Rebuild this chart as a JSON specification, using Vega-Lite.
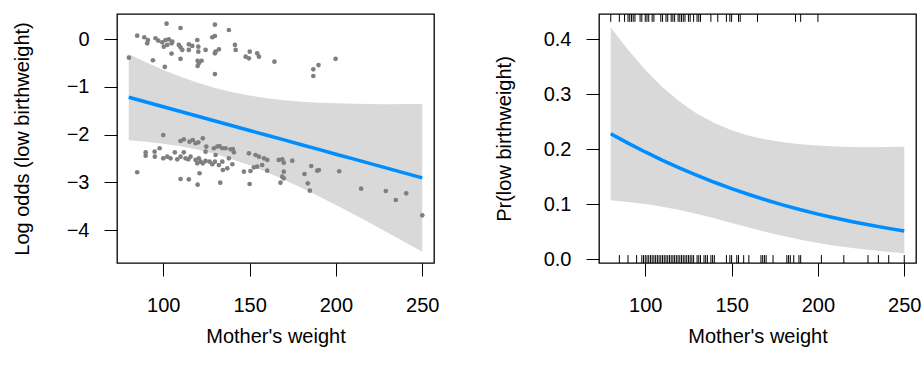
{
  "$schema": "https://vega.github.io/schema/vega-lite/v6.json",
  "padding": {"left": 11, "top": 12, "right": 0, "bottom": 0},
  "background": "white",
  "config": {
    "font": "Liberation Sans",
    "view": {"stroke": "black", "strokeWidth": 1.3},
    "axis": {"domain": false, "grid": false, "tickColor": "black", "tickSize": 13, "tickWidth": 1, "labelFontSize": 20, "titleFontSize": 20, "titleFontWeight": "normal", "labelColor": "black", "titleColor": "black", "labelFont": "Liberation Sans", "titleFont": "Liberation Sans", "labelOverlap": false},
    "axisX": {"labelPadding": 19, "titlePadding": 11, "labelFlush": false},
    "axisY": {"labelPadding": 15, "titlePadding": 29, "minExtent": 56, "maxExtent": 56},
    "concat": {"spacing": 53}
  },
  "datasets": {
    "fit": [
      {"lwt": 80, "lo": -1.216, "lo_lo": -2.116, "lo_hi": -0.316, "p": 0.2287, "p_lo": 0.1075, "p_hi": 0.4217},
      {"lwt": 90, "lo": -1.315, "lo_lo": -2.146, "lo_hi": -0.484, "p": 0.2116, "p_lo": 0.1047, "p_hi": 0.3813},
      {"lwt": 100, "lo": -1.415, "lo_lo": -2.188, "lo_hi": -0.642, "p": 0.1955, "p_lo": 0.1008, "p_hi": 0.3448},
      {"lwt": 110, "lo": -1.514, "lo_lo": -2.243, "lo_hi": -0.785, "p": 0.1803, "p_lo": 0.0960, "p_hi": 0.3133},
      {"lwt": 120, "lo": -1.614, "lo_lo": -2.316, "lo_hi": -0.912, "p": 0.1660, "p_lo": 0.0898, "p_hi": 0.2866},
      {"lwt": 130, "lo": -1.713, "lo_lo": -2.406, "lo_hi": -1.020, "p": 0.1528, "p_lo": 0.0827, "p_hi": 0.2650},
      {"lwt": 140, "lo": -1.812, "lo_lo": -2.515, "lo_hi": -1.109, "p": 0.1404, "p_lo": 0.0748, "p_hi": 0.2481},
      {"lwt": 150, "lo": -1.912, "lo_lo": -2.643, "lo_hi": -1.181, "p": 0.1288, "p_lo": 0.0664, "p_hi": 0.2349},
      {"lwt": 160, "lo": -2.011, "lo_lo": -2.786, "lo_hi": -1.236, "p": 0.1181, "p_lo": 0.0581, "p_hi": 0.2251},
      {"lwt": 170, "lo": -2.110, "lo_lo": -2.944, "lo_hi": -1.276, "p": 0.1081, "p_lo": 0.0500, "p_hi": 0.2182},
      {"lwt": 180, "lo": -2.210, "lo_lo": -3.113, "lo_hi": -1.307, "p": 0.0989, "p_lo": 0.0426, "p_hi": 0.2130},
      {"lwt": 190, "lo": -2.309, "lo_lo": -3.290, "lo_hi": -1.328, "p": 0.0904, "p_lo": 0.0359, "p_hi": 0.2095},
      {"lwt": 200, "lo": -2.409, "lo_lo": -3.475, "lo_hi": -1.343, "p": 0.0825, "p_lo": 0.0300, "p_hi": 0.2070},
      {"lwt": 210, "lo": -2.508, "lo_lo": -3.664, "lo_hi": -1.352, "p": 0.0753, "p_lo": 0.0250, "p_hi": 0.2055},
      {"lwt": 220, "lo": -2.607, "lo_lo": -3.857, "lo_hi": -1.357, "p": 0.0687, "p_lo": 0.0207, "p_hi": 0.2047},
      {"lwt": 230, "lo": -2.707, "lo_lo": -4.054, "lo_hi": -1.360, "p": 0.0626, "p_lo": 0.0171, "p_hi": 0.2042},
      {"lwt": 240, "lo": -2.806, "lo_lo": -4.253, "lo_hi": -1.359, "p": 0.0570, "p_lo": 0.0140, "p_hi": 0.2044},
      {"lwt": 250, "lo": -2.906, "lo_lo": -4.456, "lo_hi": -1.356, "p": 0.0519, "p_lo": 0.0115, "p_hi": 0.2049}
    ],
    "resid": [
      {"lwt": 101.9, "r": 0.327}, {"lwt": 110.0, "r": 0.237}, {"lwt": 129.9, "r": 0.306}, {"lwt": 138.0, "r": 0.195},
      {"lwt": 84.9, "r": 0.075}, {"lwt": 89.0, "r": 0.042}, {"lwt": 91.1, "r": -0.015}, {"lwt": 90.7, "r": -0.084},
      {"lwt": 95.5, "r": 0.021}, {"lwt": 97.1, "r": -0.029}, {"lwt": 99.4, "r": -0.063}, {"lwt": 101.3, "r": -0.015},
      {"lwt": 103.2, "r": 0.0}, {"lwt": 104.8, "r": -0.084}, {"lwt": 105.2, "r": -0.05}, {"lwt": 102.3, "r": -0.119},
      {"lwt": 100.3, "r": -0.155}, {"lwt": 109.0, "r": -0.119}, {"lwt": 110.0, "r": -0.168}, {"lwt": 111.0, "r": -0.224},
      {"lwt": 114.8, "r": -0.224}, {"lwt": 114.8, "r": -0.105}, {"lwt": 116.8, "r": -0.14}, {"lwt": 119.7, "r": -0.015},
      {"lwt": 120.3, "r": -0.155}, {"lwt": 120.3, "r": -0.26}, {"lwt": 124.5, "r": -0.224}, {"lwt": 128.4, "r": 0.042},
      {"lwt": 129.9, "r": 0.069}, {"lwt": 130.3, "r": -0.26}, {"lwt": 129.9, "r": -0.294}, {"lwt": 132.2, "r": -0.21},
      {"lwt": 141.5, "r": -0.119}, {"lwt": 141.9, "r": -0.224}, {"lwt": 147.7, "r": -0.364}, {"lwt": 150.1, "r": -0.26},
      {"lwt": 149.6, "r": -0.4}, {"lwt": 154.4, "r": -0.294}, {"lwt": 155.4, "r": -0.364}, {"lwt": 164.4, "r": -0.469},
      {"lwt": 80.1, "r": -0.385}, {"lwt": 94.0, "r": -0.44}, {"lwt": 100.9, "r": -0.58}, {"lwt": 104.8, "r": -0.3},
      {"lwt": 110.0, "r": -0.41}, {"lwt": 119.9, "r": -0.45}, {"lwt": 120.6, "r": -0.5}, {"lwt": 119.9, "r": -0.56},
      {"lwt": 122.2, "r": -0.45}, {"lwt": 129.9, "r": -0.73}, {"lwt": 186.9, "r": -0.63}, {"lwt": 189.9, "r": -0.54},
      {"lwt": 186.9, "r": -0.77}, {"lwt": 199.8, "r": -0.41},
      {"lwt": 100.0, "r": -2.006}, {"lwt": 110.0, "r": -2.132}, {"lwt": 111.9, "r": -2.097}, {"lwt": 115.2, "r": -2.147},
      {"lwt": 117.1, "r": -2.111}, {"lwt": 118.7, "r": -2.18}, {"lwt": 120.3, "r": -2.16}, {"lwt": 122.9, "r": -2.076},
      {"lwt": 124.9, "r": -2.25}, {"lwt": 129.3, "r": -2.285}, {"lwt": 131.3, "r": -2.25}, {"lwt": 132.6, "r": -2.237},
      {"lwt": 134.2, "r": -2.285}, {"lwt": 136.1, "r": -2.285}, {"lwt": 139.0, "r": -2.306}, {"lwt": 140.9, "r": -2.369},
      {"lwt": 140.3, "r": -2.3}, {"lwt": 89.8, "r": -2.369}, {"lwt": 89.8, "r": -2.44}, {"lwt": 95.0, "r": -2.356},
      {"lwt": 95.1, "r": -2.461}, {"lwt": 97.9, "r": -2.285}, {"lwt": 100.0, "r": -2.495}, {"lwt": 102.3, "r": -2.461},
      {"lwt": 104.2, "r": -2.495}, {"lwt": 106.7, "r": -2.369}, {"lwt": 108.1, "r": -2.516}, {"lwt": 110.0, "r": -2.461},
      {"lwt": 111.9, "r": -2.369}, {"lwt": 112.9, "r": -2.495}, {"lwt": 114.5, "r": -2.516}, {"lwt": 115.8, "r": -2.461},
      {"lwt": 118.7, "r": -2.53}, {"lwt": 120.6, "r": -2.495}, {"lwt": 119.7, "r": -2.6}, {"lwt": 121.6, "r": -2.566},
      {"lwt": 122.9, "r": -2.6}, {"lwt": 124.5, "r": -2.551}, {"lwt": 124.5, "r": -2.356}, {"lwt": 126.8, "r": -2.566},
      {"lwt": 128.4, "r": -2.62}, {"lwt": 130.3, "r": -2.426}, {"lwt": 129.9, "r": -2.566}, {"lwt": 132.2, "r": -2.635},
      {"lwt": 134.2, "r": -2.566}, {"lwt": 134.5, "r": -2.74}, {"lwt": 137.1, "r": -2.705}, {"lwt": 140.0, "r": -2.62},
      {"lwt": 138.0, "r": -2.495}, {"lwt": 149.6, "r": -2.39}, {"lwt": 153.4, "r": -2.426}, {"lwt": 155.4, "r": -2.461},
      {"lwt": 158.3, "r": -2.495}, {"lwt": 160.2, "r": -2.53}, {"lwt": 157.3, "r": -2.635}, {"lwt": 154.4, "r": -2.67},
      {"lwt": 152.5, "r": -2.684}, {"lwt": 150.5, "r": -2.761}, {"lwt": 146.7, "r": -2.775}, {"lwt": 160.2, "r": -2.755},
      {"lwt": 84.9, "r": -2.788}, {"lwt": 110.0, "r": -2.929}, {"lwt": 114.8, "r": -2.935}, {"lwt": 119.9, "r": -3.048},
      {"lwt": 121.0, "r": -2.809}, {"lwt": 133.0, "r": -3.006}, {"lwt": 150.0, "r": -3.034},
      {"lwt": 166.9, "r": -2.53}, {"lwt": 168.9, "r": -2.516}, {"lwt": 169.8, "r": -2.587}, {"lwt": 174.7, "r": -2.545},
      {"lwt": 169.8, "r": -2.776}, {"lwt": 168.9, "r": -2.88}, {"lwt": 169.8, "r": -2.914}, {"lwt": 167.9, "r": -3.006},
      {"lwt": 181.8, "r": -2.824}, {"lwt": 183.7, "r": -3.019}, {"lwt": 184.9, "r": -3.174}, {"lwt": 185.7, "r": -2.656},
      {"lwt": 189.2, "r": -2.755}, {"lwt": 190.1, "r": -2.74}, {"lwt": 201.9, "r": -2.767}, {"lwt": 214.6, "r": -3.132},
      {"lwt": 228.9, "r": -3.18}, {"lwt": 234.7, "r": -3.369}, {"lwt": 240.7, "r": -3.229}, {"lwt": 250.0, "r": -3.69}
    ],
    "rug": [
      {"lwt": 80, "low": 1}, {"lwt": 85, "low": 1}, {"lwt": 88, "low": 1}, {"lwt": 90, "low": 1}, {"lwt": 91, "low": 1},
      {"lwt": 92, "low": 1}, {"lwt": 93, "low": 1}, {"lwt": 94, "low": 1}, {"lwt": 97, "low": 1}, {"lwt": 98, "low": 1},
      {"lwt": 100, "low": 1}, {"lwt": 101, "low": 1}, {"lwt": 102, "low": 1}, {"lwt": 104, "low": 1}, {"lwt": 105, "low": 1},
      {"lwt": 109, "low": 1}, {"lwt": 110, "low": 1}, {"lwt": 112, "low": 1}, {"lwt": 113, "low": 1}, {"lwt": 115, "low": 1},
      {"lwt": 116, "low": 1}, {"lwt": 117, "low": 1}, {"lwt": 119, "low": 1}, {"lwt": 120, "low": 1}, {"lwt": 121, "low": 1},
      {"lwt": 122, "low": 1}, {"lwt": 123, "low": 1}, {"lwt": 125, "low": 1}, {"lwt": 126, "low": 1}, {"lwt": 128, "low": 1},
      {"lwt": 130, "low": 1}, {"lwt": 131, "low": 1}, {"lwt": 132, "low": 1}, {"lwt": 138, "low": 1}, {"lwt": 142, "low": 1},
      {"lwt": 147, "low": 1}, {"lwt": 149, "low": 1}, {"lwt": 150, "low": 1}, {"lwt": 154, "low": 1}, {"lwt": 155, "low": 1},
      {"lwt": 165, "low": 1}, {"lwt": 187, "low": 1}, {"lwt": 190, "low": 1}, {"lwt": 200, "low": 1},
      {"lwt": 85, "low": 0}, {"lwt": 90, "low": 0}, {"lwt": 95, "low": 0}, {"lwt": 98, "low": 0}, {"lwt": 99, "low": 0},
      {"lwt": 100, "low": 0}, {"lwt": 101, "low": 0}, {"lwt": 102, "low": 0}, {"lwt": 103, "low": 0}, {"lwt": 104, "low": 0},
      {"lwt": 105, "low": 0}, {"lwt": 106, "low": 0}, {"lwt": 107, "low": 0}, {"lwt": 108, "low": 0}, {"lwt": 109, "low": 0},
      {"lwt": 110, "low": 0}, {"lwt": 111, "low": 0}, {"lwt": 112, "low": 0}, {"lwt": 113, "low": 0}, {"lwt": 114, "low": 0},
      {"lwt": 115, "low": 0}, {"lwt": 116, "low": 0}, {"lwt": 117, "low": 0}, {"lwt": 118, "low": 0}, {"lwt": 119, "low": 0},
      {"lwt": 120, "low": 0}, {"lwt": 121, "low": 0}, {"lwt": 122, "low": 0}, {"lwt": 123, "low": 0}, {"lwt": 124, "low": 0},
      {"lwt": 125, "low": 0}, {"lwt": 126, "low": 0}, {"lwt": 127, "low": 0}, {"lwt": 128, "low": 0}, {"lwt": 130, "low": 0},
      {"lwt": 131, "low": 0}, {"lwt": 132, "low": 0}, {"lwt": 134, "low": 0}, {"lwt": 135, "low": 0}, {"lwt": 136, "low": 0},
      {"lwt": 138, "low": 0}, {"lwt": 139, "low": 0}, {"lwt": 140, "low": 0}, {"lwt": 147, "low": 0}, {"lwt": 149, "low": 0},
      {"lwt": 150, "low": 0}, {"lwt": 153, "low": 0}, {"lwt": 154, "low": 0}, {"lwt": 157, "low": 0}, {"lwt": 160, "low": 0},
      {"lwt": 167, "low": 0}, {"lwt": 168, "low": 0}, {"lwt": 169, "low": 0}, {"lwt": 170, "low": 0}, {"lwt": 174, "low": 0},
      {"lwt": 182, "low": 0}, {"lwt": 183, "low": 0}, {"lwt": 184, "low": 0}, {"lwt": 186, "low": 0}, {"lwt": 189, "low": 0},
      {"lwt": 190, "low": 0}, {"lwt": 202, "low": 0}, {"lwt": 215, "low": 0}, {"lwt": 229, "low": 0}, {"lwt": 235, "low": 0},
      {"lwt": 241, "low": 0}, {"lwt": 250, "low": 0}
    ]
  },
  "hconcat": [
    {
      "width": 317,
      "height": 249,
      "encoding": {
        "x": {"field": "lwt", "type": "quantitative", "scale": {"domain": [73.2, 256.8], "nice": false, "zero": false}, "axis": {"values": [100, 150, 200, 250], "title": "Mother's weight"}}
      },
      "layer": [
        {
          "data": {"name": "fit"},
          "mark": {"type": "area", "color": "#D9D9D9", "opacity": 1},
          "encoding": {
            "y": {"field": "lo_lo", "type": "quantitative", "scale": {"domain": [-4.69, 0.53], "nice": false, "zero": false}, "axis": {"values": [0, -1, -2, -3, -4], "title": "Log odds (low birthweight)"}},
            "y2": {"field": "lo_hi"}
          }
        },
        {
          "data": {"name": "resid"},
          "mark": {"type": "circle", "color": "#7F7F7F", "size": 22, "opacity": 1},
          "encoding": {"y": {"field": "r", "type": "quantitative"}}
        },
        {
          "data": {"name": "fit"},
          "mark": {"type": "line", "color": "#008DFF", "strokeWidth": 3.5},
          "encoding": {"y": {"field": "lo", "type": "quantitative"}}
        }
      ]
    },
    {
      "width": 317,
      "height": 249,
      "encoding": {
        "x": {"field": "lwt", "type": "quantitative", "scale": {"domain": [73.2, 256.8], "nice": false, "zero": false}, "axis": {"values": [100, 150, 200, 250], "title": "Mother's weight"}}
      },
      "layer": [
        {
          "data": {"name": "fit"},
          "mark": {"type": "area", "color": "#D9D9D9", "opacity": 1},
          "encoding": {
            "y": {"field": "p_lo", "type": "quantitative", "scale": {"domain": [-0.0064, 0.4463], "nice": false, "zero": false}, "axis": {"values": [0, 0.1, 0.2, 0.3, 0.4], "format": ".1f", "title": "Pr(low birthweight)"}},
            "y2": {"field": "p_hi"}
          }
        },
        {
          "data": {"name": "fit"},
          "mark": {"type": "line", "color": "#008DFF", "strokeWidth": 3.5},
          "encoding": {"y": {"field": "p", "type": "quantitative"}}
        },
        {
          "data": {"name": "rug"},
          "transform": [{"filter": "datum.low == 0"}],
          "mark": {"type": "rule", "color": "black", "strokeWidth": 1},
          "encoding": {"y": {"datum": -0.0064, "type": "quantitative"}, "y2": {"datum": 0.008}}
        },
        {
          "data": {"name": "rug"},
          "transform": [{"filter": "datum.low == 1"}],
          "mark": {"type": "rule", "color": "black", "strokeWidth": 1},
          "encoding": {"y": {"datum": 0.4463, "type": "quantitative"}, "y2": {"datum": 0.432}}
        }
      ]
    }
  ]
}
